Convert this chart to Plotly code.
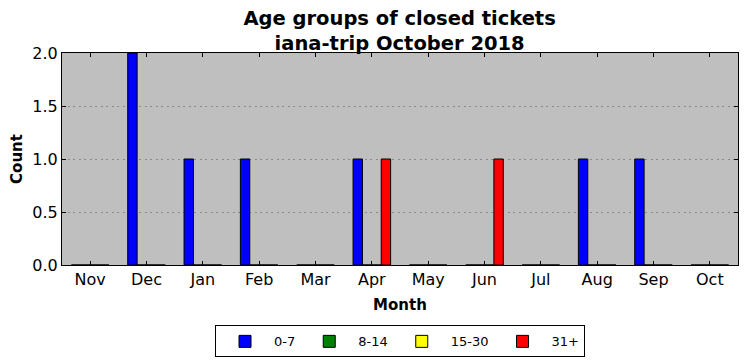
import plotly.graph_objects as go

months = ["Nov", "Dec", "Jan", "Feb", "Mar", "Apr", "May", "Jun", "Jul", "Aug", "Sep", "Oct"]
age_0_7 = [0, 2, 1, 1, 0, 1, 0, 0, 0, 1, 1, 0]
age_8_14 = [0, 0, 0, 0, 0, 0, 0, 0, 0, 0, 0, 0]
age_15_30 = [0, 0, 0, 0, 0, 0, 0, 0, 0, 0, 0, 0]
age_31_plus = [0, 0, 0, 0, 0, 1, 0, 1, 0, 0, 0, 0]

series = [
    ("0-7", age_0_7, "#0000ff"),
    ("8-14", age_8_14, "#008000"),
    ("15-30", age_15_30, "#ffff00"),
    ("31+", age_31_plus, "#ff0000"),
]

fig = go.Figure()
for name, vals, color in series:
    fig.add_trace(go.Bar(
        x=list(range(len(months))), y=vals, name=name,
        marker=dict(color=color, line=dict(color="black", width=1)),
    ))

font = "DejaVu Sans, sans-serif"
fig.update_layout(
    width=747, height=361,
    paper_bgcolor="white", plot_bgcolor="#bfbfbf",
    barmode="group", bargap=1/3, bargroupgap=0,
    margin=dict(l=62, r=9, t=53, b=96, autoexpand=False),
    font=dict(family=font, color="black"),
    title=dict(
        text="<b>Age groups of closed tickets<br>iana-trip October 2018</b>",
        x=0.535, xanchor="center", xref="container",
        y=1 - 25 / 361, yanchor="middle", yref="container",
        font=dict(size=19.5, family=font), automargin=False,
    ),
    showlegend=True,
    legend=dict(
        orientation="h", x=0.5, xanchor="center", y=-0.285, yanchor="top",
        bordercolor="black", borderwidth=1, font=dict(size=13),
        traceorder="normal", itemwidth=48,
    ),
    xaxis=dict(
        range=[-0.5, 11.5], tickvals=list(range(len(months))), ticktext=months,
        ticks="inside", ticklen=4, tickcolor="black", mirror="allticks",
        showline=True, linecolor="black", linewidth=1, showgrid=False,
        tickfont=dict(size=16), zeroline=False, automargin=False,
        title=dict(text="<b>Month</b>", font=dict(size=15), standoff=11),
    ),
    yaxis=dict(
        range=[0, 2], tickvals=[0, 0.5, 1.0, 1.5, 2.0],
        ticktext=["0.0", "0.5", "1.0", "1.5", "2.0"],
        ticks="inside", ticklen=4, tickcolor="black", mirror="allticks",
        showline=True, linecolor="black", linewidth=1,
        showgrid=True, gridcolor="#8a8a8a", griddash="2px,3.5px", gridwidth=1,
        tickfont=dict(size=16), zeroline=False, automargin=False,
        title=dict(text="<b>Count</b>", font=dict(size=15), standoff=6),
    ),
)

fig.write_html("out.html", config={"displayModeBar": False},
               post_script="document.body.style.margin='0';")
